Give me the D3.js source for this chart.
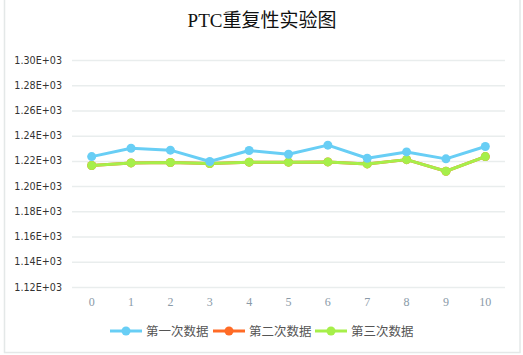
<!DOCTYPE html>
<html>
<head>
<meta charset="utf-8">
<script src="https://cdn.jsdelivr.net/npm/d3@7/dist/d3.min.js"></script>
<style>
html,body{margin:0;padding:0;background:#fff;}
svg{display:block;}
</style>
</head>
<body>
<svg id="chart" width="523" height="355"></svg>
<script>
const categories = ["0","1","2","3","4","5","6","7","8","9","10"];
const yTicks = [1.12,1.14,1.16,1.18,1.20,1.22,1.24,1.26,1.28,1.30];
const seriesNames = ["第一次数据","第二次数据","第三次数据"];
const series1 = [1.2234,1.2300,1.2285,1.2195,1.2282,1.2253,1.2325,1.2221,1.2271,1.2216,1.2314];
const series2 = [1.2163,1.2184,1.2187,1.2179,1.2190,1.2190,1.2192,1.2176,1.2210,1.2118,1.2234];
const series3 = [1.2163,1.2184,1.2187,1.2179,1.2190,1.2190,1.2192,1.2176,1.2210,1.2118,1.2234];
const colors = ["#68cef5","#ff6b26","#a6ef4a"];
const title = "PTC重复性实验图";

const svg = d3.select("#chart");
// frame
svg.append("rect").attr("x",4.5).attr("y",-1).attr("width",515.5).attr("height",353.5)
  .attr("fill","none").attr("stroke","#e4e8e8").attr("stroke-width",1.5);

const x = d3.scaleBand().domain(categories).range([72,505]);
const y = d3.scaleLinear().domain([1.12,1.30]).range([287,60]);

// title
svg.append("text").attr("x",262).attr("y",27).attr("text-anchor","middle")
  .attr("font-family","'Liberation Serif','Noto Sans CJK SC',serif")
  .attr("font-size",19).attr("fill","#111").text(title);

// grid
svg.append("g").selectAll("line").data(yTicks).join("line")
  .attr("x1",72).attr("x2",505).attr("y1",d=>y(d)+0.5).attr("y2",d=>y(d)+0.5)
  .attr("stroke","#e9eded").attr("stroke-width",1.5);

// y axis labels
const yAxis = d3.axisLeft(y).tickValues(yTicks).tickSize(0).tickPadding(0)
  .tickFormat(d=>d.toFixed(2)+"E+03");
const gy = svg.append("g").attr("transform","translate(62,0)").call(yAxis);
gy.select(".domain").remove();
gy.selectAll("text").attr("font-family","'DejaVu Sans',sans-serif").attr("font-size",9.6)
  .attr("fill","#333");

// x axis labels
const xAxis = d3.axisBottom(x).tickSize(0).tickPadding(0);
const gx = svg.append("g").attr("transform","translate(0,297)").call(xAxis);
gx.select(".domain").remove();
gx.selectAll("text").attr("font-family","'Liberation Serif',serif").attr("font-size",12)
  .attr("fill","#8a9aa8");

const cx = d=>x(d)+x.bandwidth()/2;
const line = d3.line().x((d,i)=>cx(categories[i])).y(d=>y(d));
const allSeries = [series1,series2,series3];
const drawOrder = [1,2,0];
drawOrder.forEach(si=>{
  const data = allSeries[si];
  const g = svg.append("g");
  g.append("path").datum(data).attr("d",line).attr("fill","none")
    .attr("stroke",colors[si]).attr("stroke-width",3).attr("stroke-linejoin","round");
  g.selectAll("circle").data(data).join("circle")
    .attr("cx",(d,i)=>cx(categories[i])).attr("cy",d=>y(d)).attr("r",4.5)
    .attr("fill",colors[si]);
});

// legend
const legendX = [110,213,315];
seriesNames.forEach((n,i)=>{
  const g = svg.append("g").attr("transform",`translate(${legendX[i]},331)`);
  g.append("line").attr("x1",0).attr("x2",32).attr("y1",0).attr("y2",0)
    .attr("stroke",colors[i]).attr("stroke-width",3);
  g.append("circle").attr("cx",16).attr("cy",0).attr("r",4.5).attr("fill",colors[i]);
  g.append("text").attr("x",36).attr("y",5).attr("font-family","'Noto Sans CJK SC',sans-serif")
    .attr("font-size",12.5).attr("fill","#555").text(n);
});
</script>
</body>
</html>
